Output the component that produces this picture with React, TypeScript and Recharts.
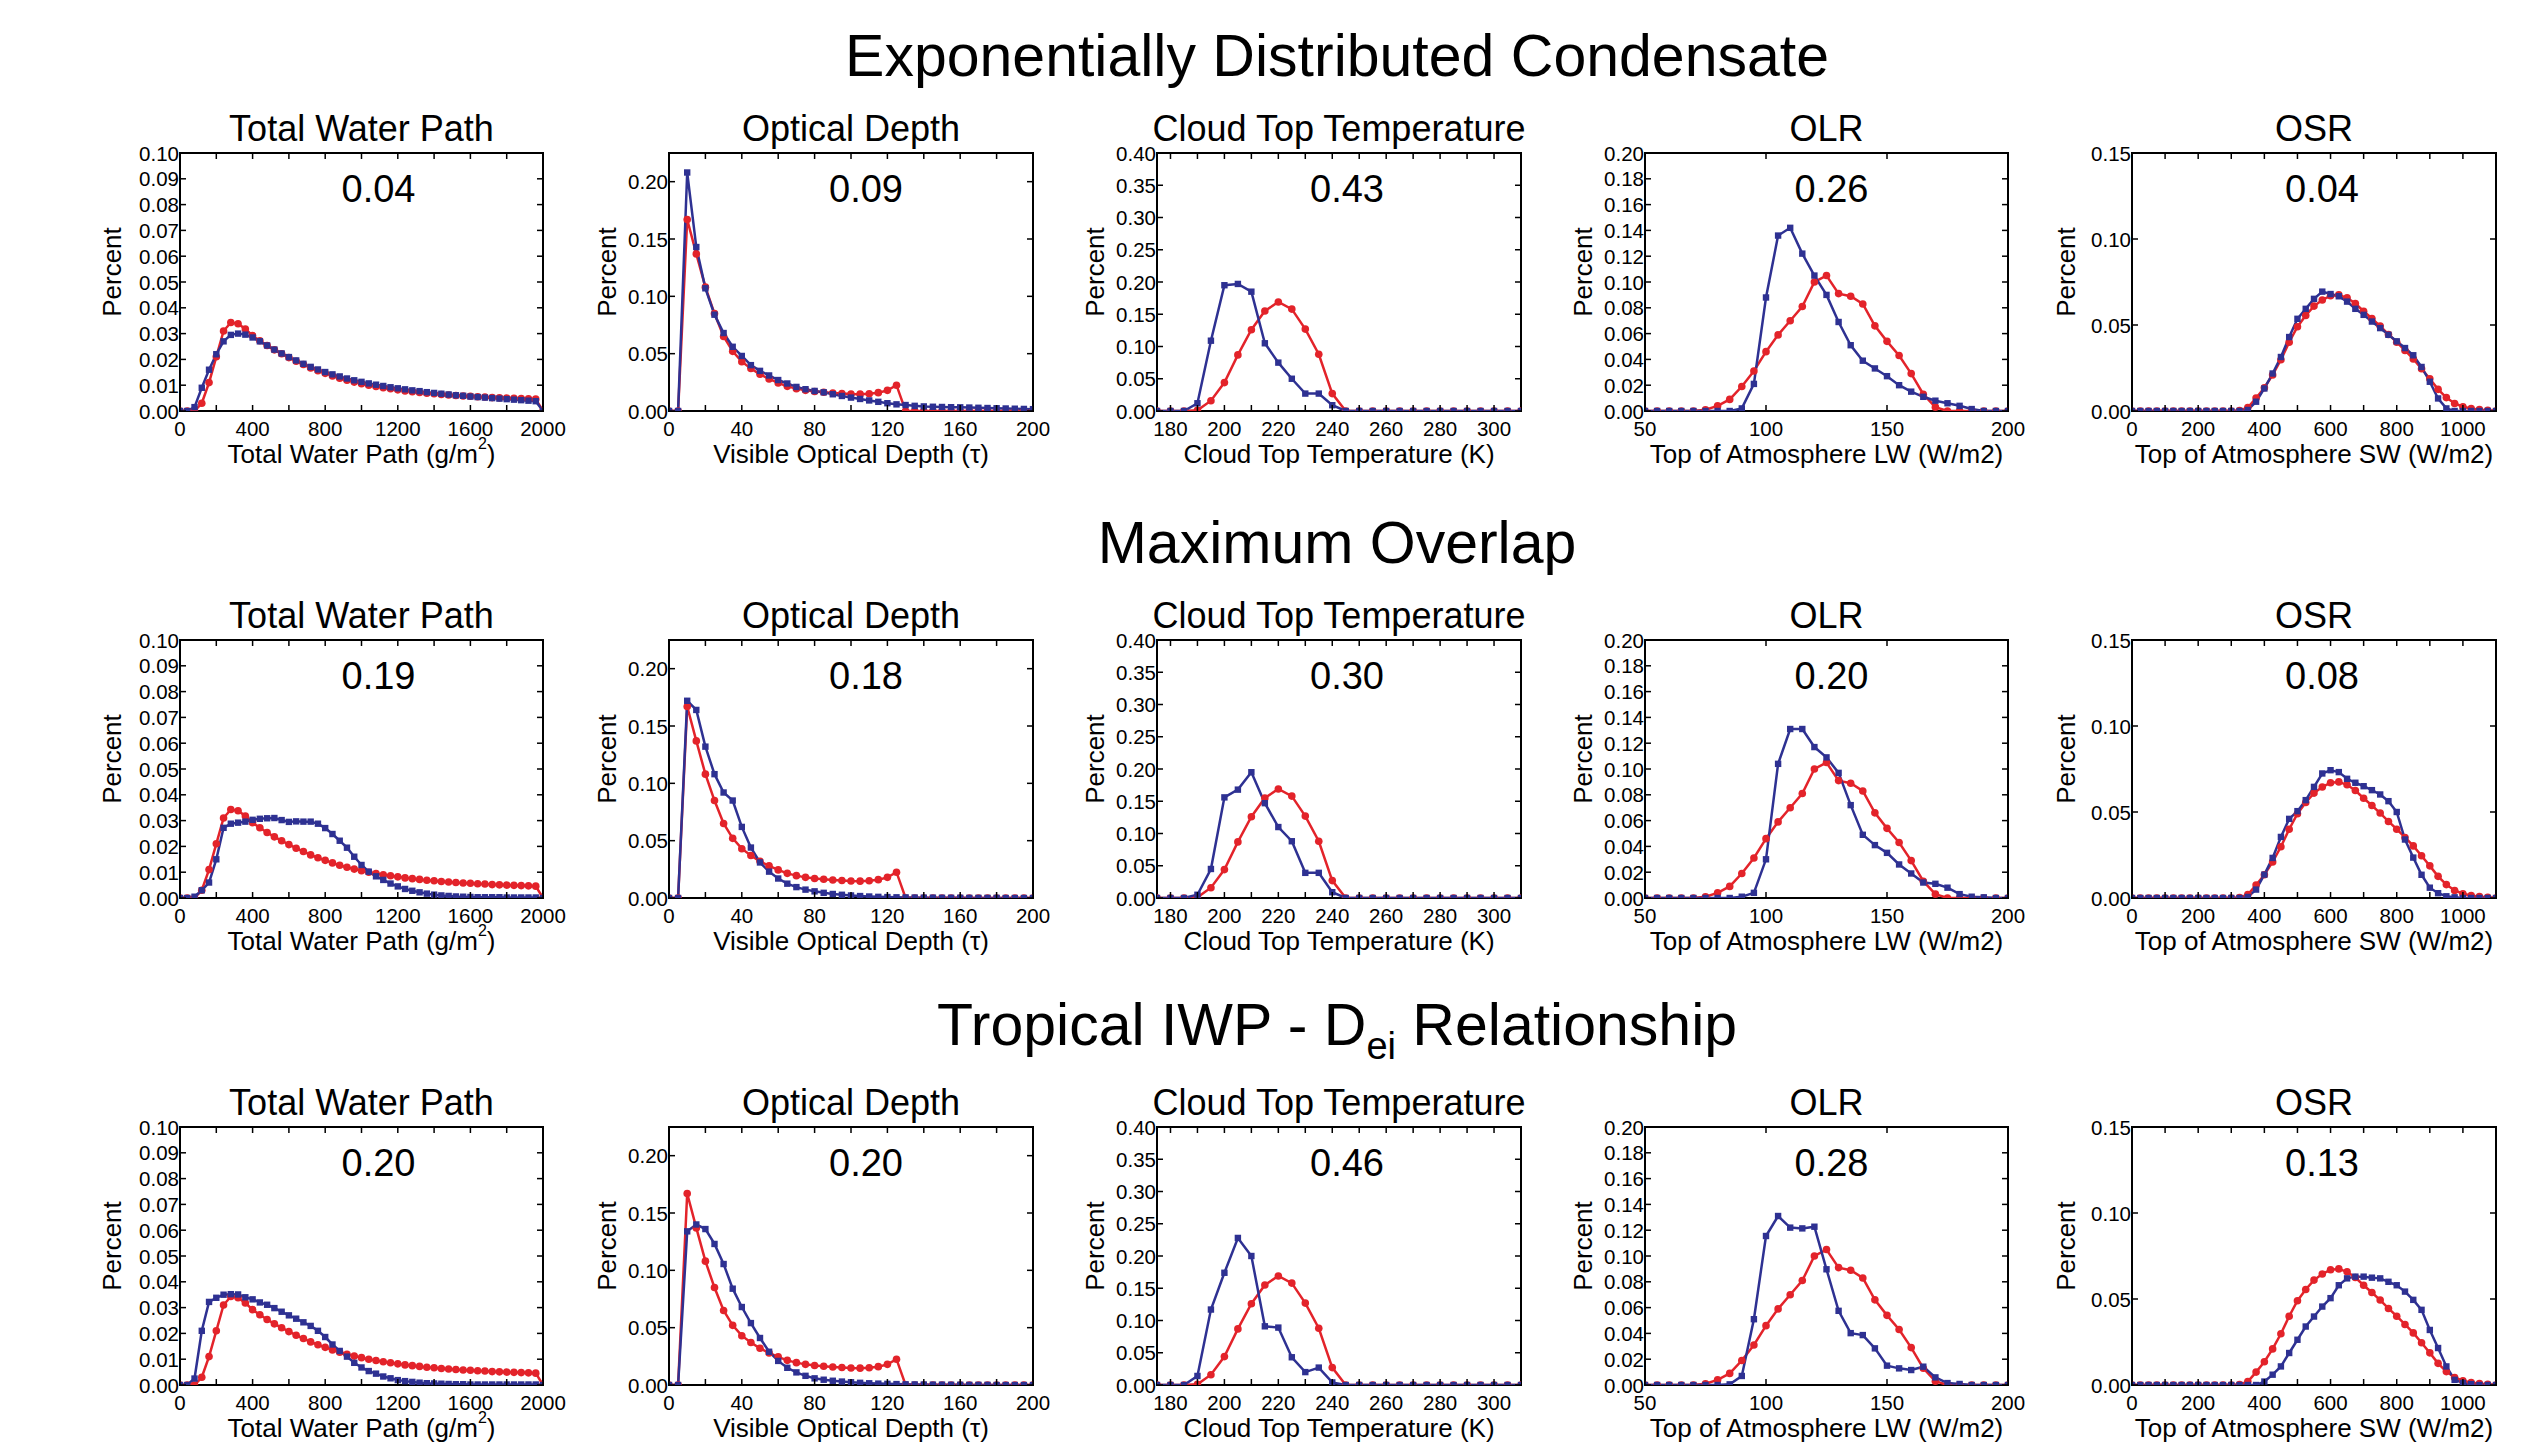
import React from 'react';
import { LineChart, Line, XAxis, YAxis, ReferenceArea } from 'recharts';

// ---------------- DATA ----------------
const rowTitles = ['Exponentially Distributed Condensate', 'Maximum Overlap', 'Tropical IWP - D|ei| Relationship'];
const panelTitles = ['Total Water Path', 'Optical Depth', 'Cloud Top Temperature', 'OLR', 'OSR'];
const scoresRow1 = ['0.04', '0.09', '0.43', '0.26', '0.04'];
const scoresRow2 = ['0.19', '0.18', '0.30', '0.20', '0.08'];
const scoresRow3 = ['0.20', '0.20', '0.46', '0.28', '0.13'];

// Total water path
const twpX = [0, 40, 80, 120, 160, 200, 240, 280, 320, 360, 400, 440, 480, 520, 560, 600, 640, 680, 720, 760, 800, 840, 880, 920, 960, 1000, 1040, 1080, 1120, 1160, 1200, 1240, 1280, 1320, 1360, 1400, 1440, 1480, 1520, 1560, 1600, 1640, 1680, 1720, 1760, 1800, 1840, 1880, 1920, 1960, 2000];
const twpRed = [0, 0, 0, 0.003, 0.011, 0.021, 0.031, 0.0343, 0.0338, 0.0318, 0.0292, 0.0272, 0.0254, 0.0237, 0.0222, 0.0207, 0.0193, 0.018, 0.0167, 0.0156, 0.0146, 0.0136, 0.0127, 0.0119, 0.0112, 0.0106, 0.01, 0.0095, 0.009, 0.0086, 0.0082, 0.0078, 0.0075, 0.0072, 0.0069, 0.0067, 0.0064, 0.0062, 0.006, 0.0058, 0.0057, 0.0055, 0.0054, 0.0052, 0.0051, 0.005, 0.0049, 0.0048, 0.0047, 0.0046, 0];
const twpBlue1 = [0, 0, 0.0015, 0.009, 0.016, 0.022, 0.027, 0.0295, 0.03, 0.0296, 0.0285, 0.027, 0.0254, 0.0238, 0.0223, 0.0209, 0.0196, 0.0183, 0.0171, 0.0161, 0.0151, 0.0142, 0.0134, 0.0126, 0.0119, 0.0113, 0.0107, 0.0102, 0.0097, 0.0092, 0.0088, 0.0084, 0.008, 0.0077, 0.0073, 0.007, 0.0067, 0.0064, 0.0061, 0.0059, 0.0056, 0.0054, 0.0052, 0.005, 0.0048, 0.0046, 0.0044, 0.0042, 0.004, 0.0038, 0];
const twpBlue2 = [0, 0, 0.0005, 0.003, 0.006, 0.015, 0.0272, 0.0288, 0.0292, 0.0296, 0.0303, 0.0307, 0.0309, 0.031, 0.0302, 0.0295, 0.0297, 0.0296, 0.0296, 0.0288, 0.0271, 0.0248, 0.0222, 0.0195, 0.016, 0.0128, 0.0102, 0.0084, 0.007, 0.0056, 0.0045, 0.0035, 0.0028, 0.0022, 0.0017, 0.0013, 0.001, 0.0008, 0.0006, 0.0005, 0.0004, 0.0003, 0.0003, 0.0003, 0.0003, 0.0002, 0.0002, 0.0002, 0.0002, 0.0002, 0];
const twpBlue3 = [0, 0, 0.0025, 0.021, 0.0322, 0.0338, 0.035, 0.0352, 0.0351, 0.034, 0.0332, 0.032, 0.0311, 0.0298, 0.0284, 0.027, 0.0257, 0.0243, 0.0229, 0.021, 0.0186, 0.0157, 0.0132, 0.011, 0.0086, 0.0068, 0.0054, 0.0044, 0.0033, 0.0026, 0.0019, 0.0015, 0.0012, 0.0009, 0.0007, 0.0006, 0.0005, 0.0004, 0.0003, 0.0003, 0.0002, 0.0002, 0.0002, 0.0002, 0.0002, 0.0002, 0.0002, 0.0002, 0.0002, 0.0002, 0];
const twpTicks = [0, 200, 400, 600, 800, 1000, 1200, 1400, 1600, 1800, 2000];
const twpLabels = [0, 400, 800, 1200, 1600, 2000];
const twpYTicks = [0, 0.01, 0.02, 0.03, 0.04, 0.05, 0.06, 0.07, 0.08, 0.09, 0.1];

// Optical depth
const odX = [0, 5, 10, 15, 20, 25, 30, 35, 40, 45, 50, 55, 60, 65, 70, 75, 80, 85, 90, 95, 100, 105, 110, 115, 120, 125, 130, 135, 140, 145, 150, 155, 160, 165, 170, 175, 180, 185, 190, 195, 200];
const odRed = [0, 0, 0.167, 0.137, 0.108, 0.085, 0.065, 0.052, 0.043, 0.037, 0.032, 0.028, 0.0245, 0.0215, 0.0195, 0.018, 0.017, 0.0163, 0.0157, 0.0152, 0.0148, 0.0147, 0.015, 0.016, 0.018, 0.0225, 0, 0, 0, 0, 0, 0, 0, 0, 0, 0, 0, 0, 0, 0, 0];
const odBlue1 = [0, 0, 0.208, 0.143, 0.107, 0.084, 0.068, 0.056, 0.048, 0.04, 0.035, 0.031, 0.027, 0.024, 0.021, 0.019, 0.0175, 0.0163, 0.0146, 0.0131, 0.0117, 0.0105, 0.0092, 0.008, 0.0068, 0.0058, 0.0052, 0.0045, 0.004, 0.0037, 0.0035, 0.0033, 0.0032, 0.003, 0.0028, 0.0026, 0.0024, 0.0022, 0.002, 0.0018, 0.0016];
const odBlue2 = [0, 0, 0.172, 0.164, 0.132, 0.108, 0.092, 0.085, 0.062, 0.044, 0.031, 0.023, 0.017, 0.0125, 0.0095, 0.0073, 0.0058, 0.0045, 0.0035, 0.0028, 0.0022, 0.0017, 0.0013, 0.001, 0.0008, 0.0006, 0.0005, 0.0004, 0.0003, 0.0003, 0.0002, 0.0002, 0.0002, 0.0001, 0.0001, 0.0001, 0.0001, 0, 0, 0, 0];
const odBlue3 = [0, 0, 0.134, 0.14, 0.136, 0.123, 0.1055, 0.084, 0.068, 0.054, 0.041, 0.029, 0.021, 0.015, 0.011, 0.008, 0.0058, 0.0046, 0.0037, 0.003, 0.0024, 0.0019, 0.0015, 0.0012, 0.001, 0.0008, 0.0006, 0.0005, 0.0004, 0.0003, 0.0003, 0.0002, 0.0002, 0.0001, 0.0001, 0.0001, 0, 0, 0, 0, 0];
const odTicks = [0, 20, 40, 60, 80, 100, 120, 140, 160, 180, 200];
const odLabels = [0, 40, 80, 120, 160, 200];
const odYTicks = [0, 0.05, 0.1, 0.15, 0.2];

// Cloud top temperature
const cttX = [175, 180, 185, 190, 195, 200, 205, 210, 215, 220, 225, 230, 235, 240, 245, 250, 255, 260, 265, 270, 275, 280, 285, 290, 295, 300, 305, 310];
const cttRed = [0, 0, 0, 0.001, 0.016, 0.044, 0.087, 0.126, 0.155, 0.169, 0.158, 0.127, 0.088, 0.027, 0, 0, 0, 0, 0, 0, 0, 0, 0, 0, 0, 0, 0, 0];
const cttBlue1 = [0, 0, 0, 0.012, 0.109, 0.195, 0.197, 0.185, 0.105, 0.075, 0.05, 0.027, 0.027, 0.009, 0, 0, 0, 0, 0, 0, 0, 0, 0, 0, 0, 0, 0, 0];
const cttBlue2 = [0, 0, 0, 0.005, 0.045, 0.156, 0.168, 0.195, 0.147, 0.11, 0.088, 0.039, 0.039, 0.009, 0, 0, 0, 0, 0, 0, 0, 0, 0, 0, 0, 0, 0, 0];
const cttBlue3 = [0, 0, 0, 0.014, 0.117, 0.174, 0.228, 0.2, 0.091, 0.089, 0.043, 0.02, 0.027, 0.004, 0, 0, 0, 0, 0, 0, 0, 0, 0, 0, 0, 0, 0, 0];
const cttTicks = [180, 190, 200, 210, 220, 230, 240, 250, 260, 270, 280, 290, 300];
const cttLabels = [180, 200, 220, 240, 260, 280, 300];
const cttYTicks = [0, 0.05, 0.1, 0.15, 0.2, 0.25, 0.3, 0.35, 0.4];

// OLR
const olrX = [50, 55, 60, 65, 70, 75, 80, 85, 90, 95, 100, 105, 110, 115, 120, 125, 130, 135, 140, 145, 150, 155, 160, 165, 170, 175, 180, 185, 190, 195, 200];
const olrRed = [0, 0, 0, 0, 0, 0.001, 0.004, 0.009, 0.019, 0.031, 0.046, 0.059, 0.07, 0.081, 0.1, 0.105, 0.091, 0.089, 0.083, 0.066, 0.054, 0.043, 0.029, 0.013, 0.003, 0, 0, 0, 0, 0, 0];
const olrBlue1 = [0, 0, 0, 0, 0, 0, 0, 0, 0.002, 0.021, 0.088, 0.136, 0.142, 0.122, 0.105, 0.09, 0.069, 0.051, 0.039, 0.033, 0.027, 0.02, 0.015, 0.011, 0.008, 0.006, 0.004, 0.0015, 0, 0, 0];
const olrBlue2 = [0, 0, 0, 0, 0, 0, 0, 0, 0.001, 0.004, 0.03, 0.104, 0.131, 0.131, 0.117, 0.109, 0.097, 0.072, 0.049, 0.041, 0.035, 0.026, 0.019, 0.012, 0.011, 0.008, 0.003, 0.001, 0.0005, 0, 0];
const olrBlue3 = [0, 0, 0, 0, 0, 0, 0, 0.0005, 0.007, 0.051, 0.1155, 0.131, 0.122, 0.1214, 0.1227, 0.0897, 0.0575, 0.0402, 0.0387, 0.0284, 0.015, 0.0129, 0.0116, 0.0142, 0.0059, 0.0015, 0.0008, 0, 0, 0, 0];
const olrTicks = [50, 100, 150, 200];
const olrLabels = [50, 100, 150, 200];
const olrYTicks = [0, 0.02, 0.04, 0.06, 0.08, 0.1, 0.12, 0.14, 0.16, 0.18, 0.2];

// OSR
const osrX = [0, 25, 50, 75, 100, 125, 150, 175, 200, 225, 250, 275, 300, 325, 350, 375, 400, 425, 450, 475, 500, 525, 550, 575, 600, 625, 650, 675, 700, 725, 750, 775, 800, 825, 850, 875, 900, 925, 950, 975, 1000, 1025, 1050, 1075, 1100];
const osrRed = [0, 0, 0, 0, 0, 0, 0, 0, 0, 0, 0, 0, 0, 0.0003, 0.002, 0.0075, 0.0135, 0.021, 0.0298, 0.04, 0.049, 0.0555, 0.061, 0.0645, 0.067, 0.0675, 0.0658, 0.0625, 0.058, 0.0538, 0.0494, 0.0445, 0.04, 0.0352, 0.0303, 0.0246, 0.0187, 0.0126, 0.0078, 0.0044, 0.0025, 0.0014, 0.0008, 0.0004, 0];
const osrBlue1 = [0, 0, 0, 0, 0, 0, 0, 0, 0, 0, 0, 0, 0, 0, 0.0006, 0.0054, 0.0131, 0.0218, 0.0314, 0.043, 0.0536, 0.0594, 0.0652, 0.0694, 0.068, 0.0667, 0.0636, 0.0594, 0.0559, 0.052, 0.0482, 0.0443, 0.0405, 0.0366, 0.0324, 0.0256, 0.017, 0.0073, 0.0015, 0, 0, 0, 0, 0, 0];
const osrBlue2 = [0, 0, 0, 0, 0, 0, 0, 0, 0, 0, 0, 0, 0, 0, 0.0006, 0.0049, 0.0136, 0.0233, 0.0355, 0.046, 0.0505, 0.0569, 0.0646, 0.0724, 0.0743, 0.0732, 0.0693, 0.067, 0.065, 0.0627, 0.0602, 0.0563, 0.05, 0.034, 0.0235, 0.0135, 0.006, 0.0028, 0.001, 0.0004, 0, 0, 0, 0, 0];
const osrBlue3 = [0, 0, 0, 0, 0, 0, 0, 0, 0, 0, 0, 0, 0, 0, 0, 0, 0.002, 0.006, 0.0108, 0.0186, 0.0263, 0.034, 0.0398, 0.0456, 0.0505, 0.058, 0.062, 0.063, 0.063, 0.0624, 0.062, 0.06, 0.058, 0.0543, 0.0495, 0.0437, 0.032, 0.0215, 0.0108, 0.003, 0.0012, 0.0005, 0, 0, 0];
const osrTicks = [0, 100, 200, 300, 400, 500, 600, 700, 800, 900, 1000, 1100];
const osrLabels = [0, 200, 400, 600, 800, 1000];
const osrYTicks = [0, 0.05, 0.1, 0.15];

// ---------------- STYLE / LAYOUT ----------------
const RED = '#e3232a';
const BLUE = '#2e3192';
const FONT = '"Liberation Sans", Arial, Helvetica, sans-serif';

const colLeft = [180, 669, 1157, 1645, 2132];
const colWidth = [363, 364, 364, 363, 364];
const rowTop = [153, 640, 1127];
const PLOT_H = 258;
const percentOffset = [68, 62, 62, 62, 66];
const scoreShift = [17, 15, 8, 5, 8];
const TICK_FS = 20.5;

type ColSpec = {
  x: number[];
  red: number[];
  blues: number[][];
  xDomain: [number, number];
  yDomain: [number, number];
  xTicks: number[];
  xLabels: number[];
  yTicks: number[];
  xLabel: React.ReactNode;
};

const columns: ColSpec[] = [
  {
    x: twpX, red: twpRed, blues: [twpBlue1, twpBlue2, twpBlue3], xDomain: [0, 2000], yDomain: [0, 0.1],
    xTicks: twpTicks, xLabels: twpLabels, yTicks: twpYTicks,
    xLabel: (<>Total Water Path (g/m<tspan dy={-11} fontSize={16}>2</tspan><tspan dy={11}>)</tspan></>),
  },
  {
    x: odX, red: odRed, blues: [odBlue1, odBlue2, odBlue3], xDomain: [0, 200], yDomain: [0, 0.225],
    xTicks: odTicks, xLabels: odLabels, yTicks: odYTicks, xLabel: 'Visible Optical Depth (\u03c4)',
  },
  {
    x: cttX, red: cttRed, blues: [cttBlue1, cttBlue2, cttBlue3], xDomain: [175, 310], yDomain: [0, 0.4],
    xTicks: cttTicks, xLabels: cttLabels, yTicks: cttYTicks, xLabel: 'Cloud Top Temperature (K)',
  },
  {
    x: olrX, red: olrRed, blues: [olrBlue1, olrBlue2, olrBlue3], xDomain: [50, 200], yDomain: [0, 0.2],
    xTicks: olrTicks, xLabels: olrLabels, yTicks: olrYTicks, xLabel: 'Top of Atmosphere LW (W/m2)',
  },
  {
    x: osrX, red: osrRed, blues: [osrBlue1, osrBlue2, osrBlue3], xDomain: [0, 1100], yDomain: [0, 0.15],
    xTicks: osrTicks, xLabels: osrLabels, yTicks: osrYTicks, xLabel: 'Top of Atmosphere SW (W/m2)',
  },
];

const scores = [scoresRow1, scoresRow2, scoresRow3];

const L = 110;
const T = 20;
const RM = 45;

function Panel({ col, row }: { col: number; row: number }) {
  const spec = columns[col];
  const w = colWidth[col];
  const h = PLOT_H;
  const R = L + w;
  const B = T + h;
  const blue = spec.blues[row];
  const data = spec.x.map((v, i) => ({ x: v, red: spec.red[i], blue: blue[i] }));

  const xTick = (p: any) => {
    const v = p.payload.value;
    const cx = p.x;
    const major = spec.xLabels.includes(v);
    return (
      <g key={`xt-${v}`}>
        <line x1={cx} x2={cx} y1={B} y2={B - 6} stroke="#000" strokeWidth={1.5} />
        <line x1={cx} x2={cx} y1={T} y2={T + 6} stroke="#000" strokeWidth={1.5} />
        {major && (
          <text x={cx} y={B + 17} textAnchor="middle" dominantBaseline="central" fontSize={TICK_FS} fontFamily={FONT} fill="#000">
            {v}
          </text>
        )}
      </g>
    );
  };

  const yTick = (p: any) => {
    const v = p.payload.value;
    const cy = p.y;
    return (
      <g key={`yt-${v}`}>
        <line x1={L} x2={L + 6} y1={cy} y2={cy} stroke="#000" strokeWidth={1.5} />
        <line x1={R - 6} x2={R} y1={cy} y2={cy} stroke="#000" strokeWidth={1.5} />
        <text x={L - 1} y={cy} textAnchor="end" dominantBaseline="central" fontSize={TICK_FS} fontFamily={FONT} fill="#000">
          {Number(v).toFixed(2)}
        </text>
      </g>
    );
  };

  const px = L - percentOffset[col];
  const py = T + h / 2 - 10;

  return (
    <div style={{ position: 'absolute', left: colLeft[col] - L, top: rowTop[row] - T }}>
      <LineChart width={w + L + RM} height={h + 100} data={data} margin={{ top: T, right: RM, bottom: 0, left: 0 }}>
        <XAxis
          dataKey="x"
          type="number"
          domain={spec.xDomain}
          ticks={spec.xTicks}
          interval={0}
          tick={xTick}
          tickLine={false}
          axisLine={false}
          height={80}
          tickSize={0}
          tickMargin={0}
          allowDataOverflow
          label={{
            content: () => (
              <text x={L + w / 2} y={B + 43} textAnchor="middle" dominantBaseline="central" fontSize={26} fontFamily={FONT} fill="#000">
                {spec.xLabel}
              </text>
            ),
          }}
        />
        <YAxis
          type="number"
          domain={spec.yDomain}
          ticks={spec.yTicks}
          interval={0}
          tick={yTick}
          tickLine={false}
          axisLine={false}
          width={L}
          tickSize={0}
          tickMargin={0}
          allowDataOverflow
          label={{
            content: () => (
              <text x={px} y={py} transform={`rotate(-90 ${px} ${py})`} textAnchor="middle" dominantBaseline="central" fontSize={26} fontFamily={FONT} fill="#000">
                Percent
              </text>
            ),
          }}
        />
        <ReferenceArea
          x1={spec.xDomain[0]}
          x2={spec.xDomain[1]}
          y1={spec.yDomain[0]}
          y2={spec.yDomain[1]}
          fill="none"
          fillOpacity={0}
          stroke="#000"
          strokeWidth={2}
          ifOverflow="visible"
        />
        <Line
          dataKey="red"
          type="linear"
          stroke={RED}
          strokeWidth={2.5}
          dot={{ r: 3.8, fill: RED, stroke: 'none' }}
          activeDot={false}
          isAnimationActive={false}
        />
        <Line
          dataKey="blue"
          type="linear"
          stroke={BLUE}
          strokeWidth={2.5}
          dot={(p: any) => (
            <rect key={`bd-${p.index}`} x={p.cx - 3.2} y={p.cy - 3.2} width={6.4} height={6.4} fill={BLUE} />
          )}
          activeDot={false}
          isAnimationActive={false}
        />
      </LineChart>
    </div>
  );
}

function centered(cx: number, cy: number, size: number): React.CSSProperties {
  return {
    position: 'absolute',
    left: cx,
    top: cy,
    transform: 'translate(-50%, -50%)',
    fontSize: size,
    lineHeight: 1,
    whiteSpace: 'nowrap',
    fontFamily: FONT,
    color: '#000',
  };
}

function RowTitle({ text, cy }: { text: string; cy: number }) {
  const parts = text.split('|');
  return (
    <div style={centered(1337, cy, 59)}>
      {parts.length === 3 ? (
        <>
          {parts[0]}
          <span style={{ fontSize: 38, verticalAlign: -14 }}>{parts[1]}</span>
          {parts[2]}
        </>
      ) : (
        text
      )}
    </div>
  );
}

export default function App() {
  const rowTitleY = [56, 543, 1030];
  return (
    <div
      style={{
        position: 'absolute',
        left: 0,
        top: 0,
        width: 2535,
        height: 1447,
        background: '#fff',
        overflow: 'hidden',
        fontFamily: FONT,
      }}
    >
      {rowTitles.map((t, r) => (
        <RowTitle key={`rt-${r}`} text={t} cy={rowTitleY[r]} />
      ))}
      {[0, 1, 2].map((r) =>
        panelTitles.map((pt, c) => (
          <div key={`pt-${r}-${c}`} style={centered(colLeft[c] + colWidth[c] / 2, rowTop[r] - 24, 36)}>
            {pt}
          </div>
        ))
      )}
      {[0, 1, 2].map((r) => [0, 1, 2, 3, 4].map((c) => <Panel key={`p-${r}-${c}`} col={c} row={r} />))}
      {[0, 1, 2].map((r) =>
        scores[r].map((s, c) => (
          <div key={`s-${r}-${c}`} style={centered(colLeft[c] + colWidth[c] / 2 + scoreShift[c], rowTop[r] + 36, 38)}>
            {s}
          </div>
        ))
      )}
    </div>
  );
}
